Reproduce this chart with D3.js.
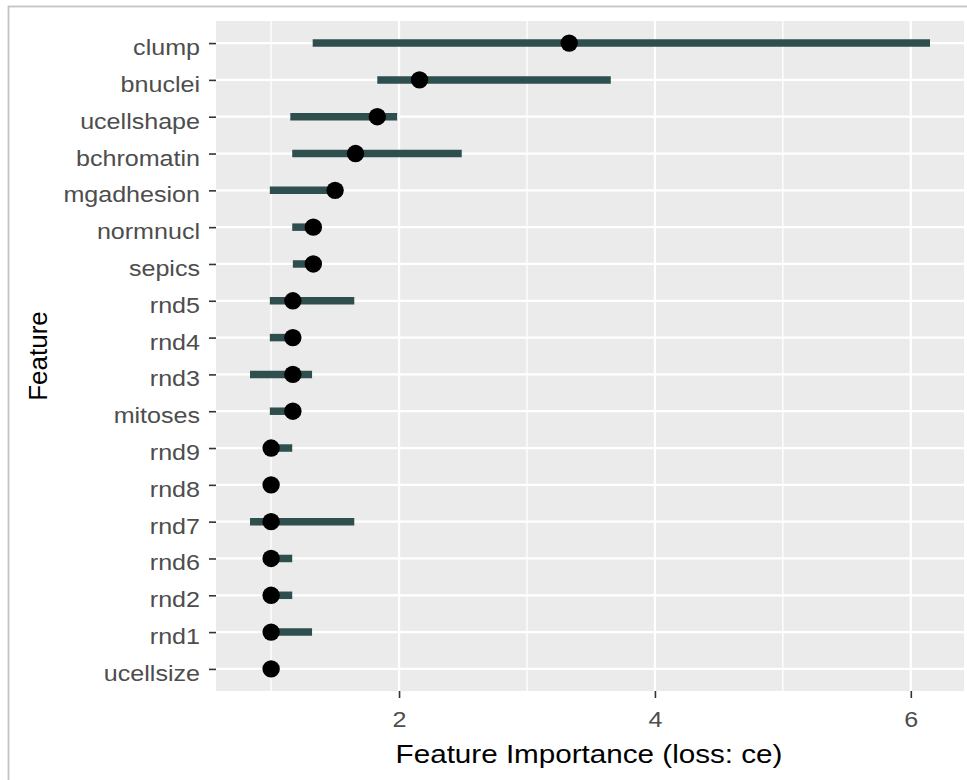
<!DOCTYPE html>
<html>
<head>
<meta charset="utf-8">
<script src="https://cdn.jsdelivr.net/npm/d3@7"></script>
<style>
  body { margin: 0; background: #fff; }
  text { font-family: "Liberation Sans", Arial, sans-serif; }
</style>
</head>
<body>
<div id="chart"></div>
<script>
// Feature importance (loss: ce), ordered top to bottom
const features = ['clump', 'bnuclei', 'ucellshape', 'bchromatin', 'mgadhesion', 'normnucl',
    'sepics', 'rnd5', 'rnd4', 'rnd3', 'mitoses', 'rnd9', 'rnd8', 'rnd7', 'rnd6', 'rnd2',
    'rnd1', 'ucellsize'];
const importance = [3.33, 2.16, 1.83, 1.66, 1.50, 1.33, 1.33, 1.17, 1.17, 1.17, 1.17,
    1.00, 1.00, 1.00, 1.00, 1.00, 1.00, 1.00];
const lower = [1.325, 1.83, 1.15, 1.165, 0.99, 1.165, 1.17, 0.99, 0.99, 0.835, 0.99,
    1.00, 1.00, 0.835, 1.00, 1.00, 1.00, 1.00];
const upper = [6.15, 3.655, 1.985, 2.49, 1.50, 1.33, 1.33, 1.65, 1.17, 1.32, 1.17,
    1.165, 1.00, 1.65, 1.165, 1.165, 1.32, 1.00];
const majorTicks = [2, 4, 6];
const minorTicks = [1, 3, 5];

const data = features.map((f, i) => ({
    feature: f, importance: importance[i], lower: lower[i], upper: upper[i]
}));

const width = 967, height = 780;
const panel = { left: 216, right: 964, top: 21, bottom: 691 };
const stretch = 1.14; // labels in the picture are slightly wide

const svg = d3.select('#chart')
    .append('svg')
    .attr('width', width)
    .attr('height', height);

// outer frame (only the left and top edges fall inside the picture)
svg.append('rect')
    .attr('x', 8.5).attr('y', 6.5)
    .attr('width', width + 20).attr('height', height + 20)
    .attr('fill', '#fff')
    .attr('stroke', '#c3c3c3')
    .attr('stroke-width', 1.8);

// scales, 5% expansion like ggplot
const xMin = d3.min(lower), xMax = d3.max(upper);
const pad = (xMax - xMin) * 0.05;
const x = d3.scaleLinear()
    .domain([xMin - pad, xMax + pad])
    .range([panel.left, panel.right]);

const y = d3.scalePoint()
    .domain(features)
    .range([panel.top, panel.bottom])
    .padding(0.6);

// panel background
svg.append('rect')
    .attr('x', panel.left).attr('y', panel.top)
    .attr('width', panel.right - panel.left)
    .attr('height', panel.bottom - panel.top)
    .attr('fill', '#ebebeb');

// grid
const grid = svg.append('g').attr('stroke', '#fff');
grid.selectAll('.minor')
    .data(minorTicks)
    .enter().append('line')
    .attr('x1', d => x(d)).attr('x2', d => x(d))
    .attr('y1', panel.top).attr('y2', panel.bottom)
    .attr('stroke-width', 1.3);
grid.selectAll('.majorx')
    .data(majorTicks)
    .enter().append('line')
    .attr('x1', d => x(d)).attr('x2', d => x(d))
    .attr('y1', panel.top).attr('y2', panel.bottom)
    .attr('stroke-width', 2.2);
grid.selectAll('.majory')
    .data(features)
    .enter().append('line')
    .attr('x1', panel.left).attr('x2', panel.right)
    .attr('y1', d => y(d)).attr('y2', d => y(d))
    .attr('stroke-width', 2.2);

// interval bars
svg.append('g')
    .selectAll('line')
    .data(data)
    .enter().append('line')
    .attr('x1', d => x(d.lower))
    .attr('x2', d => x(d.upper))
    .attr('y1', d => y(d.feature))
    .attr('y2', d => y(d.feature))
    .attr('stroke', '#2f4f4f')
    .attr('stroke-width', 7.5);

// points
svg.append('g')
    .selectAll('circle')
    .data(data)
    .enter().append('circle')
    .attr('cx', d => x(d.importance))
    .attr('cy', d => y(d.feature))
    .attr('r', 8.7)
    .attr('fill', '#000');

// axes
const xAxis = svg.append('g')
    .attr('transform', `translate(0,${panel.bottom})`)
    .call(d3.axisBottom(x).tickValues(majorTicks).tickSize(7).tickFormat(d3.format('d')));
const yAxis = svg.append('g')
    .attr('transform', `translate(${panel.left},0)`)
    .call(d3.axisLeft(y).tickSize(7));

[xAxis, yAxis].forEach(ax => {
    ax.select('.domain').remove();
    ax.selectAll('.tick line').attr('stroke', '#333').attr('stroke-width', 1.6);
});

xAxis.selectAll('.tick text')
    .attr('x', null).attr('y', null).attr('dy', null)
    .attr('transform', `translate(0,36) scale(${stretch},1)`)
    .attr('fill', '#4d4d4d')
    .style('font-size', '22px');

yAxis.selectAll('.tick text')
    .attr('x', null).attr('y', null).attr('dy', null)
    .attr('transform', `translate(-16,11.5) scale(${stretch},1)`)
    .attr('text-anchor', 'end')
    .attr('fill', '#4d4d4d')
    .style('font-size', '22px');

// axis titles
svg.append('text')
    .attr('transform', `translate(${(panel.left + panel.right) / 2 - 1},763) scale(${stretch},1)`)
    .attr('text-anchor', 'middle')
    .attr('fill', '#000')
    .style('font-size', '26px')
    .text('Feature Importance (loss: ce)');

svg.append('text')
    .attr('transform', `translate(47,${(panel.top + panel.bottom) / 2}) rotate(-90)`)
    .attr('text-anchor', 'middle')
    .attr('fill', '#000')
    .style('font-size', '26px')
    .text('Feature');
</script>
</body>
</html>
